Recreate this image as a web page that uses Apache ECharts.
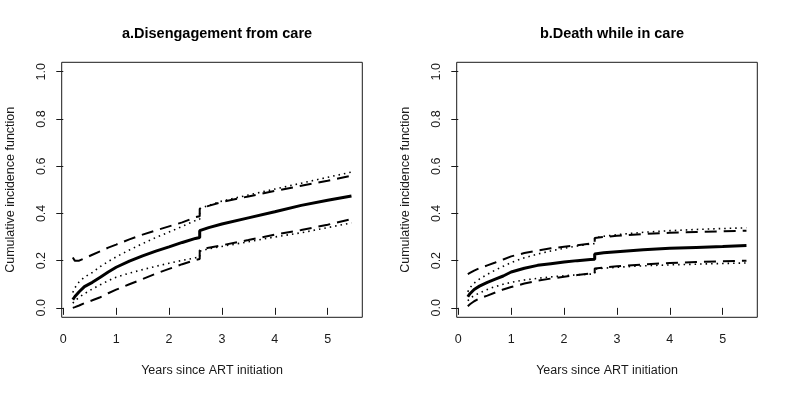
<!DOCTYPE html>
<html><head><meta charset="utf-8">
<script src="https://cdn.jsdelivr.net/npm/echarts@6/dist/echarts.min.js"></script>
<style>html,body{margin:0;padding:0;background:#fff}#c{width:789px;height:395px}</style>
</head><body><div id="c"></div>
<script>
// Years since ART initiation (jump at 2.58 repeated)
const times = [0.18,0.22,0.3,0.4,0.55,0.7,0.85,1.0,1.25,1.5,1.75,2.0,2.25,2.5,2.58,2.58,2.75,3.0,3.5,4.0,4.5,5.0,5.45];
const panelTitles = ['a.Disengagement from care','b.Death while in care'];
const xTicks = [0,1,2,3,4,5];
const yTicks = [0,0.2,0.4,0.6,0.8,1.0];
const xName = 'Years since ART initiation';
const yName = 'Cumulative incidence function';

// Panel a
const aEst     = [0.035,0.048,0.068,0.090,0.108,0.130,0.152,0.172,0.198,0.220,0.240,0.258,0.277,0.294,0.298,0.327,0.340,0.355,0.381,0.407,0.434,0.456,0.474];
const aDashUp  = [0.213,0.199,0.200,0.210,0.225,0.240,0.255,0.268,0.290,0.310,0.328,0.345,0.362,0.384,0.388,0.420,0.432,0.448,0.472,0.495,0.517,0.538,0.560];
const aDotUp   = [0.065,0.085,0.110,0.130,0.150,0.175,0.196,0.216,0.245,0.272,0.298,0.321,0.345,0.370,0.375,0.420,0.434,0.452,0.478,0.503,0.528,0.553,0.575];
const aDashLo  = [0.000,0.003,0.010,0.020,0.032,0.045,0.062,0.077,0.100,0.122,0.145,0.165,0.185,0.203,0.207,0.244,0.255,0.265,0.287,0.310,0.330,0.352,0.376];
const aDotLo   = [0.020,0.030,0.045,0.060,0.080,0.098,0.115,0.130,0.147,0.162,0.176,0.189,0.201,0.212,0.215,0.240,0.250,0.260,0.280,0.300,0.318,0.340,0.360];
// Panel b
const bEst     = [0.047,0.060,0.078,0.092,0.108,0.122,0.135,0.152,0.168,0.180,0.187,0.194,0.200,0.205,0.206,0.228,0.233,0.238,0.246,0.252,0.256,0.260,0.264];
const bDashUp  = [0.143,0.148,0.158,0.168,0.180,0.192,0.205,0.218,0.232,0.243,0.252,0.259,0.265,0.272,0.274,0.296,0.300,0.305,0.313,0.318,0.321,0.324,0.327];
const bDotUp   = [0.068,0.085,0.105,0.122,0.142,0.160,0.176,0.192,0.212,0.228,0.241,0.252,0.262,0.270,0.272,0.297,0.303,0.310,0.320,0.327,0.332,0.336,0.339];
const bDashLo  = [0.007,0.015,0.028,0.040,0.052,0.065,0.078,0.088,0.103,0.115,0.124,0.132,0.139,0.145,0.146,0.167,0.171,0.176,0.184,0.190,0.194,0.197,0.200];
const bDotLo   = [0.030,0.040,0.052,0.063,0.078,0.090,0.100,0.108,0.118,0.125,0.131,0.136,0.140,0.143,0.144,0.164,0.168,0.172,0.178,0.182,0.185,0.188,0.190];

const panels = [
  {est:aEst, dashUp:aDashUp, dotUp:aDotUp, dashLo:aDashLo, dotLo:aDotLo},
  {est:bEst, dashUp:bDashUp, dotUp:bDotUp, dashLo:bDashLo, dotLo:bDotLo}
];

const FONT = '"Liberation Sans", Arial, Helvetica, sans-serif';
const INK = '#1a1a1a';
const gridLefts = [61.7, 456.7];
const gridW = 300.6, gridTop = 62.3, gridH = 255;

const grids = [], xAxes = [], yAxes = [], series = [], titles = [];
const toPts = arr => times.map((t,i)=>[t, arr[i]]);

panels.forEach((p, k) => {
  grids.push({left: gridLefts[k], top: gridTop, width: gridW, height: gridH,
    show: true, borderColor: INK, borderWidth: 1, backgroundColor: 'transparent', containLabel: false});
  xAxes.push({type:'value', gridIndex:k, min:-0.03, max:5.655,
    name: xName, nameLocation:'middle', nameGap: 47,
    nameTextStyle:{fontFamily:FONT, fontSize:12.5, color:INK},
    axisLine:{show:false},
    axisTick:{show:true, length:7, inside:false, customValues:xTicks, lineStyle:{color:INK}},
    axisLabel:{show:true, customValues:xTicks, margin:16, fontFamily:FONT, fontSize:12.5, color:INK},
    splitLine:{show:false}});
  yAxes.push({type:'value', gridIndex:k, min:-0.04, max:1.04,
    name: yName, nameLocation:'middle', nameGap: 45, nameRotate: 90,
    nameTextStyle:{fontFamily:FONT, fontSize:12.5, color:INK},
    axisLine:{show:false},
    axisTick:{show:true, length:7, inside:false, customValues:yTicks, lineStyle:{color:INK}},
    axisLabel:{show:true, customValues:yTicks, rotate:90, margin:14, fontFamily:FONT, fontSize:12.5, color:INK,
      formatter: v => Number(v).toFixed(1)},
    splitLine:{show:false}});
  titles.push({text: panelTitles[k], left: gridLefts[k] + gridW/2, top: 21, textAlign: 'center',
    textStyle:{fontFamily:FONT, fontSize:14.5, fontWeight:'bold', color:'#000'}});
  const mk = (arr, type, width) => ({type:'line', xAxisIndex:k, yAxisIndex:k, data: toPts(arr),
    showSymbol:false, symbol:'none', smooth:false, silent:true,
    lineStyle:{color:'#000', width:width, type:type, cap:'butt'}});
  series.push(mk(p.dotUp, [1.5,4], 1.6));
  series.push(mk(p.dotLo, [1.5,4], 1.6));
  series.push(mk(p.dashUp, [12,7], 2));
  series.push(mk(p.dashLo, [12,7], 2));
  series.push(mk(p.est, 'solid', 3));
});

const chart = echarts.init(document.getElementById('c'), null, {renderer:'canvas'});
chart.setOption({animation:false, backgroundColor:'#fff', title: titles, grid: grids, xAxis: xAxes, yAxis: yAxes, series: series});
</script>
</body></html>
